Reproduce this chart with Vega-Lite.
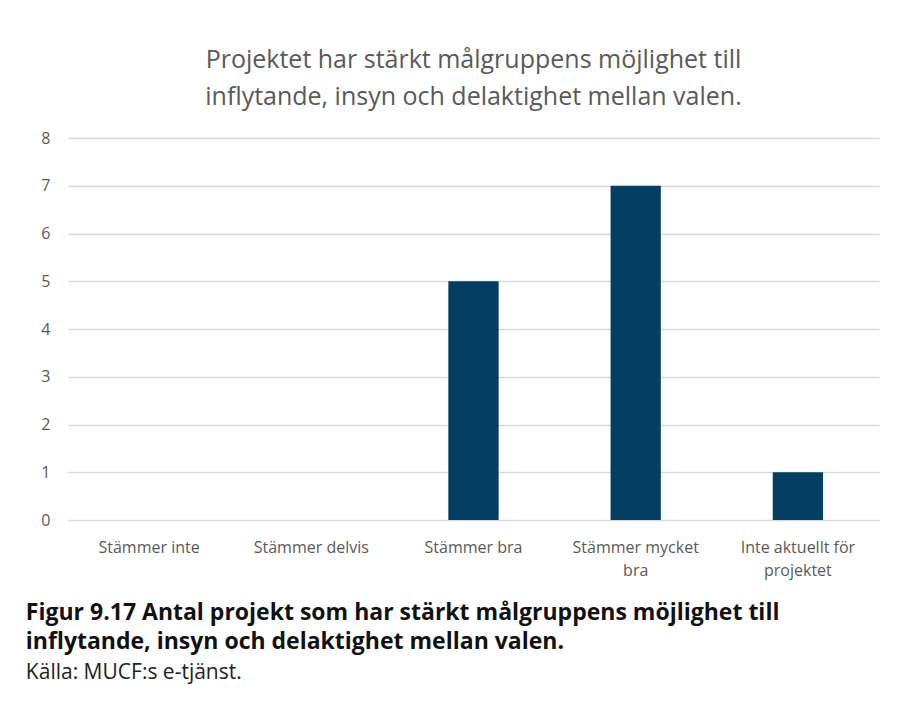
{
  "$schema": "https://vega.github.io/schema/vega-lite/v6.json",
  "padding": {"left": 25, "top": 48, "right": 25, "bottom": 5},
  "background": "white",
  "title": {
    "text": ["Figur 9.17 Antal projekt som har stärkt målgruppens möjlighet till", "inflytande, insyn och delaktighet mellan valen."],
    "subtitle": "Källa: MUCF:s e-tjänst.",
    "orient": "bottom",
    "anchor": "start",
    "dx": -15,
    "offset": 24,
    "font": "Open Sans",
    "fontSize": 23,
    "fontWeight": "bold",
    "color": "#111111",
    "lineHeight": 29,
    "subtitleFont": "Open Sans",
    "subtitleFontSize": 21,
    "subtitleColor": "#222222",
    "subtitlePadding": 8
  },
  "vconcat": [
    {
      "width": 811,
      "height": 382,
      "title": {
        "text": ["Projektet har stärkt målgruppens möjlighet till", "inflytande, insyn och delaktighet mellan valen."],
        "font": "Open Sans",
        "fontSize": 25,
        "fontWeight": "normal",
        "color": "#595959",
        "lineHeight": 37,
        "anchor": "middle",
        "offset": 20
      },
      "data": {
        "values": [
          {"kategori": "Stämmer inte", "antal": 0},
          {"kategori": "Stämmer delvis", "antal": 0},
          {"kategori": "Stämmer bra", "antal": 5},
          {"kategori": "Stämmer mycket bra", "antal": 7},
          {"kategori": "Inte aktuellt för projektet", "antal": 1}
        ]
      },
      "mark": {"type": "bar", "color": "#033f63"},
      "encoding": {
        "x": {
          "field": "kategori",
          "type": "nominal",
          "sort": null,
          "scale": {"paddingInner": 0.69, "paddingOuter": 0.345},
          "axis": {
            "title": null,
            "labelAngle": 0,
            "ticks": false,
            "domainColor": "#d9d9d9",
            "labelFont": "Open Sans",
            "labelFontSize": 16,
            "labelColor": "#595959",
            "labelPadding": 19,
            "labelLineHeight": 23,
            "labelExpr": "datum.value == 'Stämmer mycket bra' ? ['Stämmer mycket', 'bra'] : datum.value == 'Inte aktuellt för projektet' ? ['Inte aktuellt för', 'projektet'] : datum.value"
          }
        },
        "y": {
          "field": "antal",
          "type": "quantitative",
          "scale": {"domain": [0, 8]},
          "axis": {
            "title": null,
            "values": [0, 1, 2, 3, 4, 5, 6, 7, 8],
            "ticks": false,
            "domain": false,
            "gridColor": "#d9d9d9",
            "gridWidth": 1.5,
            "labelFont": "Open Sans",
            "labelFontSize": 16,
            "labelColor": "#595959",
            "labelPadding": 18
          }
        }
      }
    }
  ],
  "config": {
    "view": {"stroke": null}
  }
}
